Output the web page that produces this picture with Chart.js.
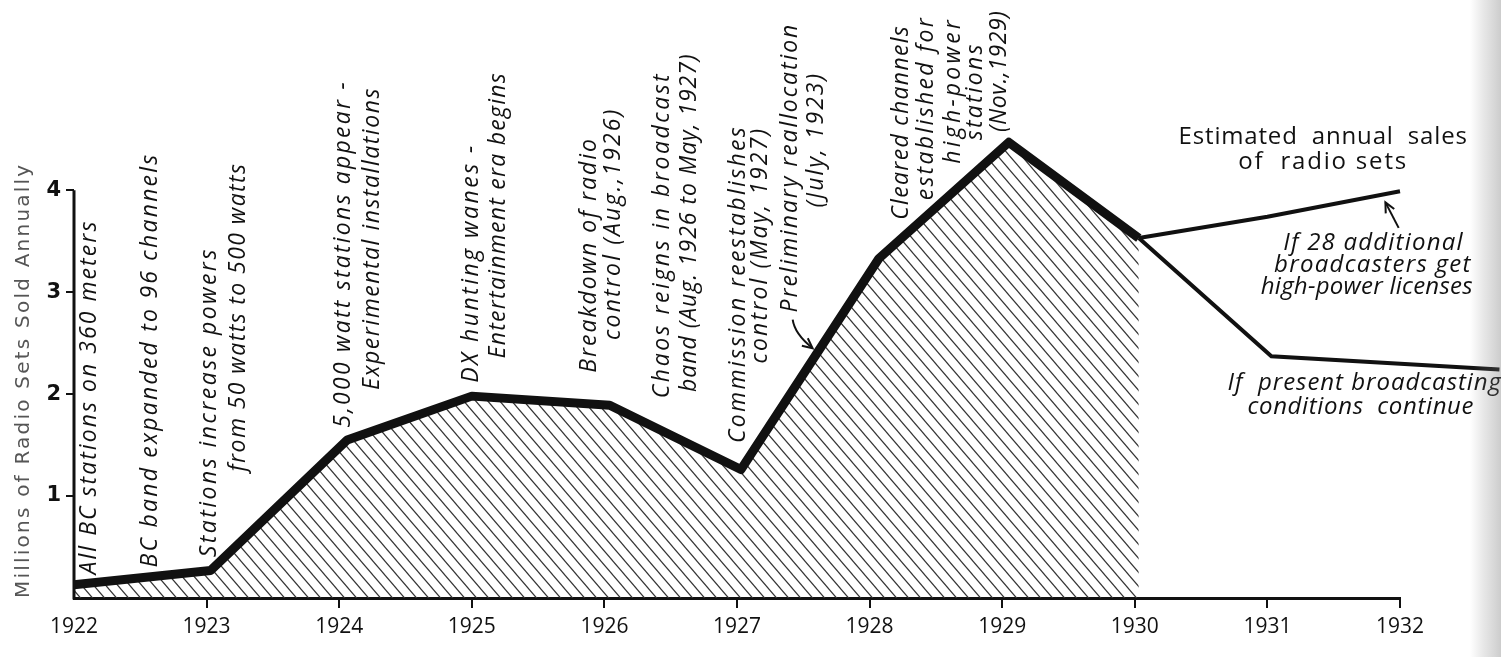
<!DOCTYPE html>
<html>
<head>
<meta charset="utf-8">
<script src="https://cdn.jsdelivr.net/npm/chart.js@4.4.1/dist/chart.umd.min.js"></script>
<style>
  html, body { margin: 0; padding: 0; background: #fff; }
  #wrap { width: 1501px; height: 657px; }
</style>
</head>
<body>
<div id="wrap"><canvas id="radio-chart" width="1501" height="657"></canvas></div>
<script>
// Estimated annual sales of radio sets, millions
const actualYears = [1922, 1923.03, 1924.06, 1925.0, 1926.04, 1927.03, 1928.07, 1929.05, 1930.03];
const actualSales = [0.13, 0.27, 1.55, 1.98, 1.89, 1.26, 3.33, 4.47, 3.53];

// projection: if 28 additional broadcasters get high-power licenses
const highPowerYears = [1930.03, 1931, 1932, 1932.75];
const highPowerSales = [3.53, 3.74, 3.99, 3.93];

// projection: if present broadcasting conditions continue
const presentYears = [1930.03, 1931.03, 1932.75];
const presentSales = [3.53, 2.37, 2.24];

const xTicks = [1922, 1923, 1924, 1925, 1926, 1927, 1928, 1929, 1930, 1931, 1932];
const yTicks = [1, 2, 3, 4];
const yTitle = "Millions of Radio Sets Sold Annually";

// vertical notes: text, year (column), value at start, value at end
const eventNotes = [
  ["All BC stations on 360 meters", 1922.12, 0.23, 3.71],
  ["BC band expanded to 96 channels", 1922.58, 0.30, 4.37],
  ["Stations increase powers", 1923.02, 0.40, 3.44],
  ["from 50 watts to 500 watts", 1923.24, 1.24, 4.27],
  ["5,000 watt stations appear -", 1924.03, 1.67, 5.08],
  ["Experimental installations", 1924.25, 2.04, 5.01],
  ["DX hunting wanes -", 1925.0, 2.11, 4.46],
  ["Entertainment era begins", 1925.2, 2.35, 5.16],
  ["Breakdown of radio", 1925.89, 2.21, 4.52],
  ["control (Aug.,1926)", 1926.07, 2.53, 4.81],
  ["Chaos reigns in broadcast", 1926.44, 1.96, 5.16],
  ["band (Aug. 1926 to May, 1927)", 1926.64, 2.02, 5.34],
  ["Commission reestablishes", 1927.01, 1.52, 4.64],
  ["control (May, 1927)", 1927.18, 2.30, 4.62],
  ["Preliminary reallocation", 1927.4, 2.80, 5.64],
  ["(July, 1923)", 1927.6, 3.83, 5.16],
  ["Cleared channels", 1928.24, 3.71, 5.62],
  ["established for", 1928.43, 3.90, 5.71],
  ["high-power", 1928.63, 4.26, 5.70],
  ["stations", 1928.8, 4.49, 5.45],
  ["(Nov.,1929)", 1928.98, 4.57, 5.76]
];

// horizontal notes: text, year start, year end, value, italic
const sideNotes = [
  ["Estimated  annual  sales", 1930.33, 1932.51, 4.52, false],
  ["of  radio sets", 1930.78, 1932.06, 4.27, false],
  ["If 28 additional", 1931.12, 1932.48, 3.48, true],
  ["broadcasters get", 1931.05, 1932.54, 3.26, true],
  ["high-power licenses", 1930.95, 1932.55, 3.05, true],
  ["If  present broadcasting", 1930.70, 1932.77, 2.11, true],
  ["conditions  continue", 1930.85, 1932.56, 1.87, true]
];

// arrows: from year, from value, to year, to value, bend
const arrows = [
  [1927.42, 2.73, 1927.57, 2.45, -8],
  [1931.99, 3.63, 1931.89, 3.88, 0]
];

const toPoints = (xs, ys) => xs.map((x, i) => ({ x: x, y: ys[i] }));

// diagonal hatching for the actual sales area
function makeHatch() {
  const w = 12, h = 14;
  const c = document.createElement("canvas");
  c.width = w; c.height = h;
  const g = c.getContext("2d");
  g.strokeStyle = "#333";
  g.lineWidth = 1.2;
  for (let k = -1; k <= 1; k++) {
    g.beginPath();
    g.moveTo(k * w - w / 6, -h / 6);
    g.lineTo(k * w + w + w / 6, h + h / 6);
    g.stroke();
  }
  return g.createPattern(c, "repeat");
}

function drawFitted(ctx, text, x, y, len, rot) {
  ctx.save();
  ctx.translate(x, y);
  ctx.rotate(rot);
  ctx.letterSpacing = "0px";
  const w0 = ctx.measureText(text).width;
  const ls = (len - w0) / text.length;
  ctx.letterSpacing = ls.toFixed(2) + "px";
  const w1 = ctx.measureText(text).width;
  if (w1 > 0 && Math.abs(w1 - len) > 4) ctx.scale(len / w1, 1);
  ctx.fillText(text, 0, 0);
  ctx.restore();
}

const notesPlugin = {
  id: "notes",
  beforeDraw(chart) {
    const ctx = chart.ctx;
    ctx.save();
    ctx.fillStyle = "#ffffff";
    ctx.fillRect(0, 0, chart.width, chart.height);
    ctx.restore();
  },
  afterDatasetsDraw(chart) {
    const ctx = chart.ctx;
    const xs = chart.scales.x, ys = chart.scales.y;
    ctx.save();

    // y axis line, only up to 4
    ctx.strokeStyle = "#111";
    ctx.lineWidth = 3;
    ctx.beginPath();
    const ax = xs.getPixelForValue(1922);
    ctx.moveTo(ax, ys.getPixelForValue(0) + 1.5);
    ctx.lineTo(ax, ys.getPixelForValue(4));
    ctx.stroke();

    // axis title
    ctx.fillStyle = "#555";
    ctx.font = '20px "DejaVu Sans"';
    ctx.textAlign = "left";
    ctx.textBaseline = "middle";
    const t0 = ys.getPixelForValue(0), t1 = ys.getPixelForValue(4.27);
    drawFitted(ctx, yTitle, 24, t0, t0 - t1, -Math.PI / 2);

    // event notes
    ctx.fillStyle = "#111";
    ctx.font = 'italic 500 23px "Open Sans"';
    eventNotes.forEach(n => {
      const x = xs.getPixelForValue(n[1]);
      const y0 = ys.getPixelForValue(n[2]), y1 = ys.getPixelForValue(n[3]);
      drawFitted(ctx, n[0], x, y0, y0 - y1, -Math.PI / 2);
    });

    sideNotes.forEach(n => {
      ctx.font = (n[4] ? "italic 500 " : "500 ") + '24px "Open Sans"';
      const x0 = xs.getPixelForValue(n[1]), x1 = xs.getPixelForValue(n[2]);
      drawFitted(ctx, n[0], x0, ys.getPixelForValue(n[3]), x1 - x0, 0);
    });

    // arrows
    ctx.strokeStyle = "#111";
    ctx.lineWidth = 2;
    arrows.forEach(a => {
      const x0 = xs.getPixelForValue(a[0]), y0 = ys.getPixelForValue(a[1]);
      const x1 = xs.getPixelForValue(a[2]), y1 = ys.getPixelForValue(a[3]);
      const cx = (x0 + x1) / 2 + a[4], cy = (y0 + y1) / 2;
      ctx.beginPath();
      ctx.moveTo(x0, y0);
      ctx.quadraticCurveTo(cx, cy, x1, y1);
      ctx.stroke();
      const ang = Math.atan2(y1 - cy, x1 - cx);
      ctx.beginPath();
      ctx.moveTo(x1 - 11 * Math.cos(ang - 0.45), y1 - 11 * Math.sin(ang - 0.45));
      ctx.lineTo(x1, y1);
      ctx.lineTo(x1 - 11 * Math.cos(ang + 0.45), y1 - 11 * Math.sin(ang + 0.45));
      ctx.stroke();
    });
    ctx.restore();
  },
  afterDraw(chart) {
    // scan shadow at the right edge
    const ctx = chart.ctx;
    const g = ctx.createLinearGradient(1470, 0, 1501, 0);
    g.addColorStop(0, "rgba(120,120,120,0)");
    g.addColorStop(0.45, "rgba(120,120,120,0.18)");
    g.addColorStop(1, "rgba(110,110,110,0.35)");
    ctx.save();
    ctx.fillStyle = g;
    ctx.fillRect(1470, 0, 31, chart.height);
    ctx.restore();
  }
};

const canvas = document.getElementById("radio-chart");
const ctx = canvas.getContext("2d");
const hatch = makeHatch();

new Chart(ctx, {
  type: "line",
  data: {
    datasets: [{
      label: "Estimated annual sales of radio sets",
      data: toPoints(actualYears, actualSales),
      borderColor: "#111",
      borderWidth: 9,
      borderJoinStyle: "round",
      backgroundColor: hatch,
      fill: "origin",
      pointRadius: 0,
      tension: 0,
      clip: false
    }, {
      label: "If 28 additional broadcasters get high-power licenses",
      data: toPoints(highPowerYears, highPowerSales),
      borderColor: "#111",
      borderWidth: 4,
      fill: false,
      pointRadius: 0,
      tension: 0,
      clip: false
    }, {
      label: "If present broadcasting conditions continue",
      data: toPoints(presentYears, presentSales),
      borderColor: "#111",
      borderWidth: 4,
      fill: false,
      pointRadius: 0,
      tension: 0,
      clip: false
    }]
  },
  options: {
    responsive: false,
    devicePixelRatio: 1,
    animation: false,
    layout: { padding: { left: 0, top: 129, right: 101, bottom: 0 } },
    plugins: {
      legend: { display: false },
      tooltip: { enabled: false }
    },
    scales: {
      x: {
        type: "linear",
        min: 1922,
        max: 1932,
        afterBuildTicks: s => { s.ticks = xTicks.map(v => ({ value: v })); },
        afterFit: s => { s.height = 59; },
        border: { display: true, color: "#111", width: 3 },
        grid: {
          drawOnChartArea: false,
          drawTicks: true,
          tickLength: 10,
          lineWidth: 2,
          color: c => (c.tick && c.tick.value === 1922) ? "rgba(0,0,0,0)" : "#111"
        },
        ticks: {
          padding: 6,
          color: "#111",
          font: { family: "Open Sans", size: 21, weight: "500" },
          callback: v => String(v)
        }
      },
      y: {
        type: "linear",
        min: 0,
        max: 4.6,
        afterBuildTicks: s => { s.ticks = yTicks.map(v => ({ value: v })); },
        afterFit: s => { s.width = 74; },
        border: { display: false },
        grid: {
          drawOnChartArea: false,
          drawTicks: true,
          tickLength: 8,
          lineWidth: 2,
          color: "#111"
        },
        ticks: {
          padding: 5,
          color: "#111",
          font: { family: "DejaVu Sans", size: 21, weight: "bold" },
          callback: v => String(v)
        }
      }
    }
  },
  plugins: [notesPlugin]
});
</script>
</body>
</html>
